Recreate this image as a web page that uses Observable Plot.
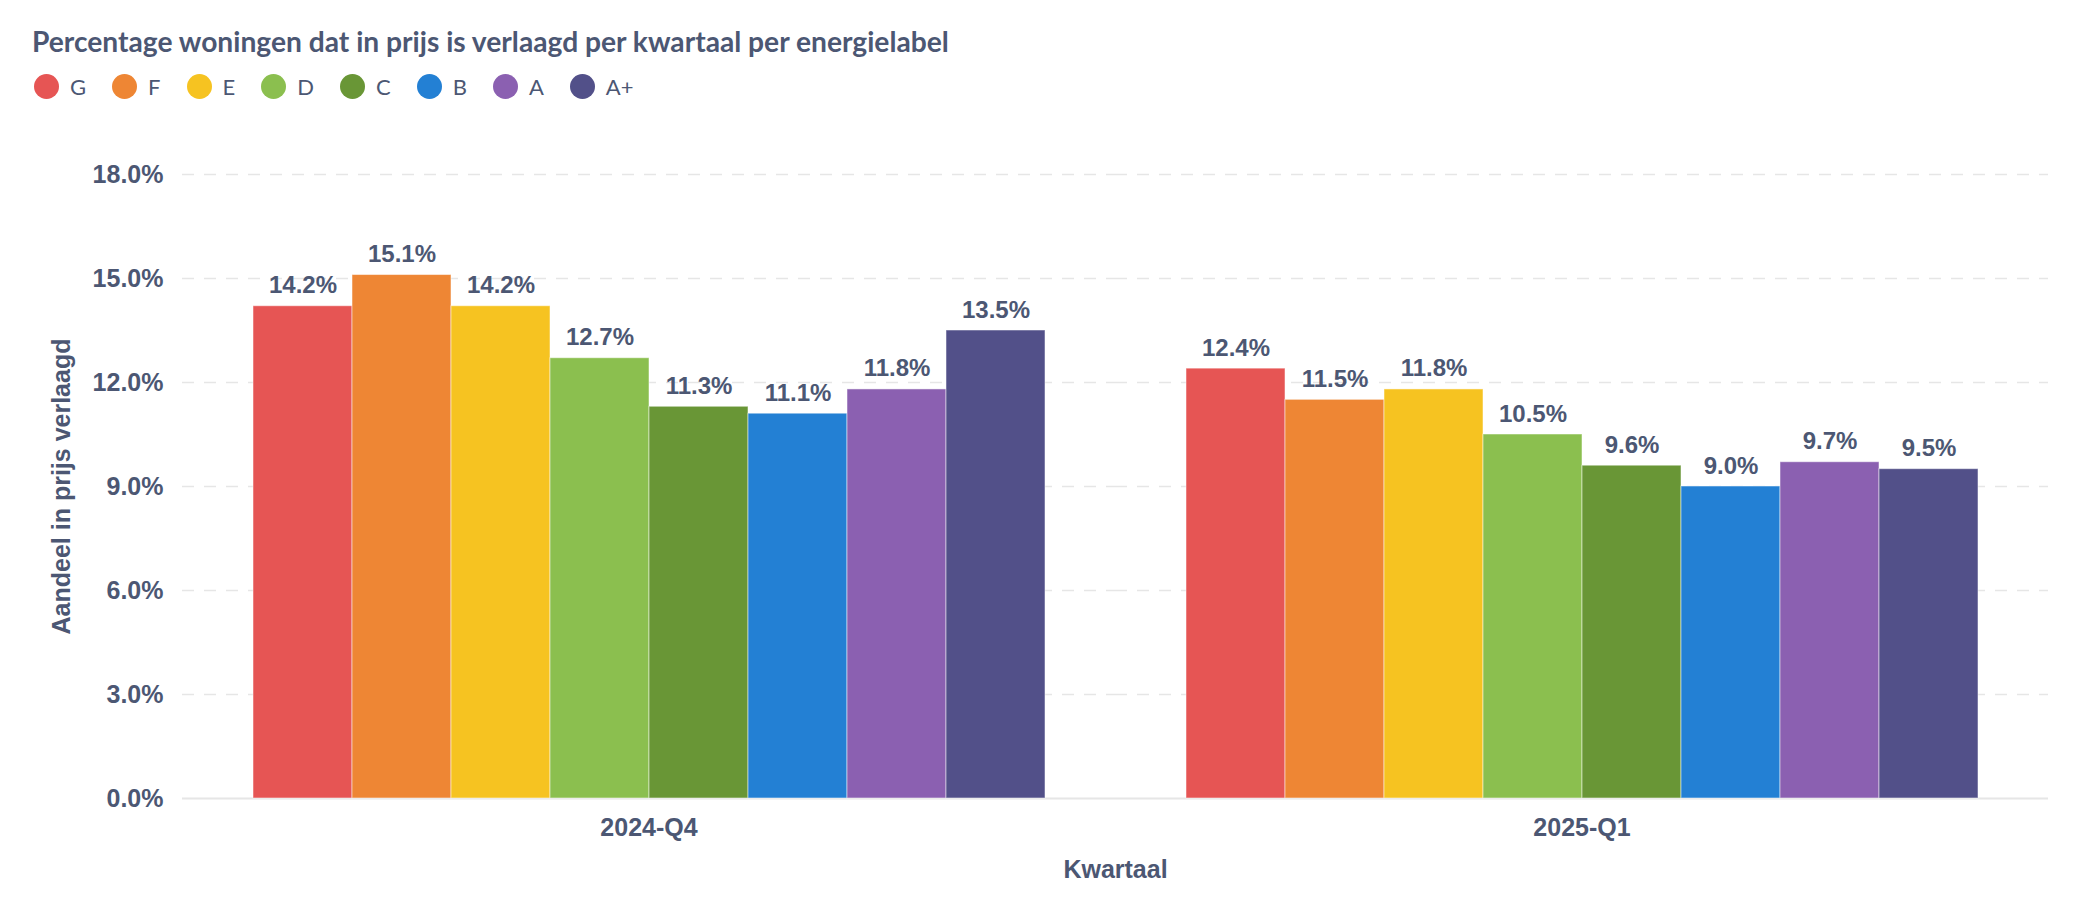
<!DOCTYPE html>
<html>
<head>
<meta charset="utf-8">
<script src="https://cdn.jsdelivr.net/npm/d3@7"></script>
<script src="https://cdn.jsdelivr.net/npm/@observablehq/plot@0.6"></script>
<style>
  html, body { margin: 0; padding: 0; background: #fff; }
  body { width: 2096px; height: 908px; overflow: hidden; font-family: Lato, sans-serif; color: #4C5773; }
  #title { position: absolute; left: 32px; top: 22px; font-size: 28.2px; font-weight: 700; line-height: 38px; white-space: nowrap; color: #4C5773; }
  #legend { position: absolute; left: 34px; top: 71px; display: flex; align-items: center; height: 30px; }
  .item { display: flex; align-items: center; margin-right: 26px; }
  .dot { width: 25px; height: 25px; border-radius: 50%; margin-right: 11px; }
  .lab { font-size: 22px; color: #4C5773; }
  #chart { position: absolute; left: 0; top: 110px; }
</style>
</head>
<body>
<div id="title">Percentage woningen dat in prijs is verlaagd per kwartaal per energielabel</div>
<div id="legend"></div>
<div id="chart"></div>
<script>
const quarters = ["2024-Q4", "2025-Q1"];
const labels = ["G", "F", "E", "D", "C", "B", "A", "A+"];
const colors = ["#E65554", "#EE8634", "#F6C321", "#8BBF4F", "#699636", "#2380D4", "#8B60B1", "#525089"];
const values2024Q4 = [14.2, 15.1, 14.2, 12.7, 11.3, 11.1, 11.8, 13.5];
const values2025Q1 = [12.4, 11.5, 11.8, 10.5, 9.6, 9.0, 9.7, 9.5];
const yTicks = [0, 3, 6, 9, 12, 15, 18];

const seriesByQuarter = [values2024Q4, values2025Q1];
const data = quarters.flatMap((q, i) => labels.map((l, j) => ({quarter: q, label: l, value: seriesByQuarter[i][j]})));

const textColor = "#4C5773";
const axisFont = "'Liberation Sans', Arial, sans-serif";

// legend
const legend = document.getElementById("legend");
labels.forEach((l, i) => {
  const it = document.createElement("div");
  it.className = "item";
  it.innerHTML = `<div class="dot" style="background:${colors[i]}"></div><div class="lab">${l}</div>`;
  legend.appendChild(it);
});

const chart = Plot.plot({
  width: 2096,
  height: 798,
  marginTop: 64,
  marginBottom: 110,
  marginLeft: 182,
  marginRight: 48,
  style: {fontFamily: axisFont, fontSize: "25px", fontWeight: "bold", color: textColor, background: "white"},
  fx: {domain: quarters, paddingInner: 0.15, paddingOuter: 0.075, label: "Kwartaal", axis: "bottom",
       tickSize: 0, tickPadding: 20, labelAnchor: "center", labelOffset: 79},
  x: {domain: labels, padding: 0, axis: null},
  y: {domain: [0, 18], ticks: yTicks, tickFormat: d => d.toFixed(1) + "%", label: "Aandeel in prijs verlaagd",
      labelAnchor: "center", tickSize: 0},
  color: {domain: labels, range: colors},
  marks: [
    Plot.ruleY(yTicks.filter(d => d > 0), {stroke: "#e6e6e6", strokeWidth: 1.5, strokeDasharray: "12,10", insetLeft: -70, insetRight: -70}),
    Plot.ruleY([0], {stroke: "#e6e6e6", strokeWidth: 2, insetLeft: -70, insetRight: -70}),
    Plot.barY(data, {fx: "quarter", x: "label", y: "value", fill: "label", stroke: "white", strokeOpacity: 0.5, strokeWidth: 1}),
    Plot.text(data, {fx: "quarter", x: "label", y: "value", text: d => d.value.toFixed(1) + "%", dy: -13, lineAnchor: "bottom",
      fill: textColor, fontSize: 24, fontWeight: "bold"}),
    Plot.axisY({ticks: yTicks, tickFormat: d => d.toFixed(1) + "%", tickSize: 0, tickPadding: 89, fontSize: 25,
      label: "Aandeel in prijs verlaagd", labelAnchor: "center", labelOffset: 200, labelArrow: "none"})
  ]
});
document.getElementById("chart").appendChild(chart);
</script>
</body>
</html>
